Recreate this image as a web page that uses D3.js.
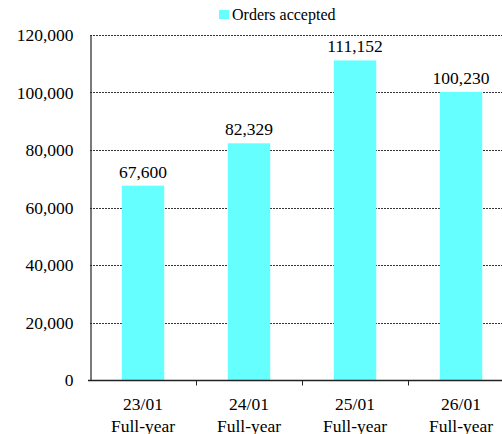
<!DOCTYPE html>
<html>
<head>
<meta charset="utf-8">
<script src="https://cdn.jsdelivr.net/npm/d3@7"></script>
<style>
  html, body { margin: 0; padding: 0; background: #fff; }
  svg { display: block; font-family: "Liberation Serif", "Times New Roman", serif; }
</style>
</head>
<body>
<svg id="chart" width="502" height="434"></svg>
<script>
// Orders accepted, full-year figures
const categories = ["23/01", "24/01", "25/01", "26/01"];
const periodLabel = "Full-year";
const orders = [67600, 82329, 111152, 100230];
const yTicks = [0, 20000, 40000, 60000, 80000, 100000, 120000];
const seriesName = "Orders accepted";

const FONT = "Liberation Serif, Times New Roman, serif";
const svg = d3.select("#chart");
const margin = { left: 90, top: 35, right: -12, bottom: 54 };
const W = 502, H = 434;

const x = d3.scaleBand()
  .domain(categories)
  .range([margin.left, W - margin.right])
  .padding(0);

const y = d3.scaleLinear()
  .domain([0, 120000])
  .range([H - margin.bottom, margin.top]);

const fmt = d3.format(",");
const barColor = "#66FFFF";

// gridlines
svg.append("g")
  .selectAll("line")
  .data(yTicks.filter(d => d > 0))
  .join("line")
  .attr("x1", margin.left)
  .attr("x2", W - margin.right)
  .attr("y1", d => Math.round(y(d)) + 0.5)
  .attr("y2", d => Math.round(y(d)) + 0.5)
  .attr("stroke", "#333")
  .attr("stroke-width", 1)
  .attr("stroke-dasharray", "2,1");

// bars
const barW = x.bandwidth() * 0.4;
svg.append("g")
  .selectAll("rect")
  .data(orders)
  .join("rect")
  .attr("x", (d, i) => x(categories[i]) + (x.bandwidth() - barW) / 2)
  .attr("y", d => y(d))
  .attr("width", barW)
  .attr("height", d => y(0) - y(d))
  .attr("fill", barColor);

// value labels
svg.append("g")
  .selectAll("text")
  .data(orders)
  .join("text")
  .attr("x", (d, i) => x(categories[i]) + x.bandwidth() / 2)
  .attr("y", d => y(d) - 8)
  .attr("text-anchor", "middle")
  .attr("font-family", FONT)
  .attr("font-size", 17.5)
  .attr("fill", "#000")
  .text(d => fmt(d));

// y axis
const yAxis = d3.axisLeft(y).tickValues(yTicks).tickFormat(fmt).tickSize(0).tickPadding(17);
const gy = svg.append("g")
  .attr("transform", `translate(${margin.left + 0.5},0)`)
  .call(yAxis)
  .attr("font-family", FONT)
  .attr("font-size", 17.5);
gy.select(".domain").attr("stroke", "#222").attr("stroke-width", 1.2);
gy.selectAll("text").attr("fill", "#000");

// x axis
const xAxis = d3.axisBottom(x).tickSize(0).tickFormat(() => "");
const gx = svg.append("g")
  .attr("transform", `translate(0,${Math.round(y(0)) + 0.5})`)
  .call(xAxis)
  .attr("font-family", FONT)
  .attr("font-size", 17.5);
gx.select(".domain").attr("stroke", "#222").attr("stroke-width", 1.5)
  .attr("d", `M${margin.left - 2},0H${W - margin.right}`);

// category boundary ticks
gx.append("g")
  .selectAll("line")
  .data(categories.slice(1))
  .join("line")
  .attr("x1", d => Math.round(x(d)) + 0.5)
  .attr("x2", d => Math.round(x(d)) + 0.5)
  .attr("y1", 0)
  .attr("y2", 5)
  .attr("stroke", "#222")
  .attr("stroke-width", 1);

// two-line category labels
const cl = gx.append("g")
  .selectAll("text")
  .data(categories)
  .join("text")
  .attr("text-anchor", "middle")
  .attr("fill", "#000")
  .attr("transform", d => `translate(${x(d) + x.bandwidth() / 2},0)`);
cl.append("tspan").attr("x", 0).attr("y", 29).text(d => d);
cl.append("tspan").attr("x", 0).attr("y", 51).text(periodLabel);

// legend
const lg = svg.append("g").attr("transform", "translate(219,10)");
lg.append("rect").attr("width", 10).attr("height", 9).attr("fill", barColor);
lg.append("text")
  .attr("x", 13)
  .attr("y", 9.5)
  .attr("font-family", FONT)
  .attr("font-size", 16)
  .attr("fill", "#000")
  .text(seriesName);
</script>
</body>
</html>
